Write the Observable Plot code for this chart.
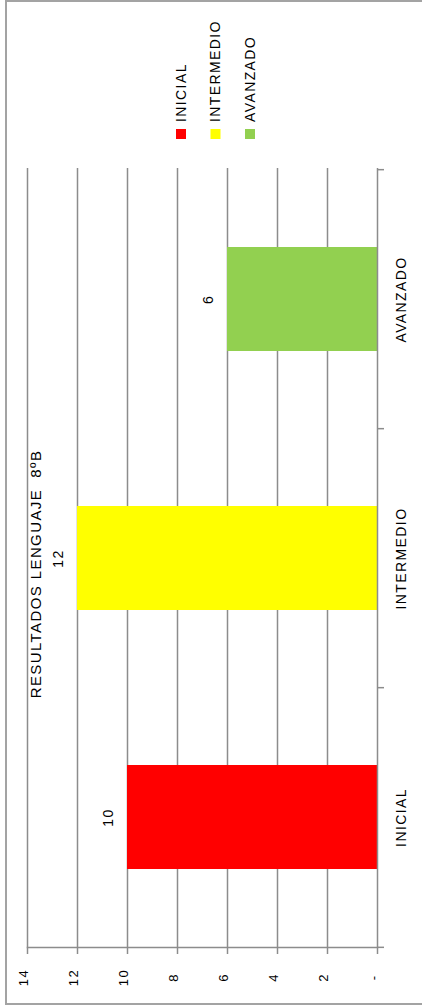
<!DOCTYPE html>
<html><head><meta charset="utf-8">
<script src="https://cdn.jsdelivr.net/npm/d3@7"></script>
<script src="https://cdn.jsdelivr.net/npm/@observablehq/plot@0.6"></script>
<style>
html,body{margin:0;padding:0;background:#fff;overflow:hidden;}
#wrap{position:relative;width:422px;height:1007px;overflow:hidden;background:#fff;}
#border{position:absolute;left:5px;top:0;width:440px;height:1005px;border:2px solid #a3a3a3;box-sizing:border-box;}
#chart{position:absolute;left:0;top:0;}
#legend{position:absolute;left:0;top:0;}
</style></head><body>
<div id="wrap"><div id="border"></div><div id="chart"></div><svg id="legend" width="422" height="168"></svg></div>
<script>
// ---- data ----
const categories = ["INICIAL", "INTERMEDIO", "AVANZADO"];
const values = [10, 12, 6];
const colors = ["#FF0000", "#FFFF00", "#92D050"];
const valueTicks = [0, 2, 4, 6, 8, 10, 12, 14];
const tickLabels = ["-", "2", "4", "6", "8", "10", "12", "14"];
const legendLabels = ["INICIAL", "INTERMEDIO", "AVANZADO"];
const title = "RESULTADOS LENGUAJE  8ºB";

// ---- layout ----
const W = 422, H = 1007;
const mT = 168, mB = H - 947, mL = 27, mR = W - 377;
const step = (H - mT - mB) / categories.length;
const grid = "#8c8c8c";
const font = "'Liberation Sans', Arial, sans-serif";

const data = categories.map((c, i) => ({cat: c, value: values[i], color: colors[i]}));

const plot = Plot.plot({
  width: W, height: H,
  marginTop: mT, marginBottom: mB, marginLeft: mL, marginRight: mR,
  style: {fontFamily: font, background: "transparent", overflow: "visible", color: "#000", letterSpacing: "1.4px"},
  x: {domain: [0, 14], reverse: true, axis: null, label: null},
  y: {domain: categories, reverse: true, paddingInner: 0.6, paddingOuter: 0.3, axis: null},
  color: {type: "identity"},
  marks: [
    Plot.ruleX(valueTicks.filter(v => v > 0), {x: d => d, stroke: grid, strokeWidth: 1.5}),
    Plot.barX(data, {x: "value", y: "cat", fill: "color"}),
    Plot.ruleX([0], {x: d => d, stroke: grid, strokeWidth: 1.5}),
    Plot.frame({anchor: "bottom", stroke: grid, strokeWidth: 1.5}),
    Plot.axisX(valueTicks, {anchor: "bottom", tickSize: 7, tickFormat: () => "", label: null, stroke: grid, strokeWidth: 1.5}),
    Plot.ruleY(categories, {y: d => d, x1: 0, x2: 0, insetRight: -7, dy: -step / 2, stroke: grid, strokeWidth: 1.5}),
    Plot.ruleY(categories.slice(0, 1), {y: d => d, x1: 0, x2: 0, insetRight: -7, dy: step / 2, stroke: grid, strokeWidth: 1.5}),
    Plot.text(valueTicks, {x: d => d, text: (d, i) => tickLabels[i], frameAnchor: "bottom", textAnchor: "middle", dy: 30, rotate: -90, fontSize: 13, fill: "#000"}),
    Plot.text(categories, {y: d => d, text: d => d, frameAnchor: "right", textAnchor: "middle", dx: 24, rotate: -90, fontSize: 14, fill: "#000"}),
    Plot.text(data, {x: "value", y: "cat", text: d => String(d.value), textAnchor: "middle", dx: -19, rotate: -90, fontSize: 14, fill: "#000"}),
    Plot.text([title], {text: d => d, frameAnchor: "left", textAnchor: "middle", dx: 9, dy: 16, rotate: -90, fontSize: 15, fill: "#000"})
  ]
});
document.getElementById("chart").appendChild(plot);

// ---- legend (rotated, at top) ----
const lg = d3.select("#legend");
const lx = d3.scalePoint().domain(legendLabels).range([181, 250]);
legendLabels.forEach((lab, i) => {
  const x = lx(lab);
  lg.append("rect").attr("x", x - 5).attr("y", 129).attr("width", 10).attr("height", 10).attr("fill", colors[i]);
  lg.append("text").attr("transform", `translate(${x},122) rotate(-90)`)
    .attr("dy", "0.35em").attr("text-anchor", "start")
    .style("font-family", font).style("font-size", "14px").style("letter-spacing", "1.4px")
    .attr("fill", "#000").text(lab);
});
</script>
</body></html>
